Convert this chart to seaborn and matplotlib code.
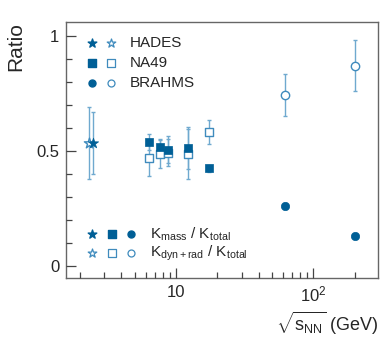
import numpy as np
import pandas as pd
import matplotlib
matplotlib.use("Agg")
import matplotlib.pyplot as plt
from matplotlib.ticker import NullFormatter, FixedLocator
import seaborn as sns

# data
hades_x_mass, hades_x_dyn = [2.48], [2.32]
hades_mass, hades_mass_err = [0.535], [0.135]
hades_dyn, hades_dyn_err = [0.535], [0.158]

na49_x = [6.3, 7.6, 8.8, 12.3, 17.3]
na49_mass = [0.538, 0.519, 0.506, 0.514, 0.425]
na49_mass_err = [0.035, 0.032, 0.058, 0.09, 0.015]
na49_dyn = [0.468, 0.487, 0.493, 0.487, 0.581]
na49_dyn_err = [0.078, 0.06, 0.06, 0.11, 0.052]

brahms_x = [62.4, 200.0]
brahms_mass = [0.262, 0.132]
brahms_mass_err = [0.012, 0.006]
brahms_dyn = [0.743, 0.871]
brahms_dyn_err = [0.09, 0.11]

dark = "#005f96"
light = "#3f8bbd"
errc = "#6fa9cf"

sns.set_theme(style="ticks", rc={"xtick.direction": "in", "ytick.direction": "in"})
plt.rcParams['font.family'] = ['Liberation Sans', 'DejaVu Sans']
plt.rcParams['mathtext.fontset'] = 'custom'
plt.rcParams['mathtext.rm'] = 'Liberation Sans'
plt.rcParams['mathtext.it'] = 'Liberation Sans:italic'

fig = plt.figure(figsize=(3.89, 3.39), dpi=100)
ax = fig.add_axes([0.170, 0.180, 0.802, 0.755])
ax.set_xscale("log")

rows = []
for exp, xs_m, xs_d, m, me, d, de, mk in [
    ("HADES", hades_x_mass, hades_x_dyn, hades_mass, hades_mass_err, hades_dyn, hades_dyn_err, "*"),
    ("NA49", na49_x, na49_x, na49_mass, na49_mass_err, na49_dyn, na49_dyn_err, "s"),
    ("BRAHMS", brahms_x, brahms_x, brahms_mass, brahms_mass_err, brahms_dyn, brahms_dyn_err, "o"),
]:
    for x, v, e in zip(xs_d, d, de):
        rows.append(dict(exp=exp, x=x, y=v, err=e, kind="dyn", marker=mk))
    for x, v, e in zip(xs_m, m, me):
        rows.append(dict(exp=exp, x=x, y=v, err=e, kind="mass", marker=mk))
df = pd.DataFrame(rows)

# error bars
for kind in ["dyn", "mass"]:
    sub = df[df.kind == kind]
    ax.errorbar(sub.x.values, sub.y.values, yerr=sub.err.values, fmt="none", ecolor=errc,
                elinewidth=1.0, capsize=1.5, capthick=1.0, zorder=2)

sizes = {"*": 60, "s": 40, "o": 36}
for (kind, mk), sub in df.groupby(["kind", "marker"]):
    if kind == "mass":
        sns.scatterplot(data=sub, x="x", y="y", marker=mk, s=sizes[mk], color=dark,
                        edgecolor=dark, linewidth=0.5, ax=ax, zorder=4, legend=False)
    else:
        sns.scatterplot(data=sub, x="x", y="y", marker=mk, s=sizes[mk], facecolor="white",
                        edgecolor=light, linewidth=1.0, ax=ax, zorder=3, legend=False)

# legends drawn by hand, ROOT style
tr = ax.transAxes
def axpt(px, py):
    return ((px - 66) / 312, (278 - py) / 256)

for (py, name, mk) in [(43, "HADES", "*"), (63, "NA49", "s"), (83, "BRAHMS", "o")]:
    x1, y1 = axpt(92, py)
    x2, _ = axpt(111, py)
    xt, _ = axpt(130, py)
    ax.scatter([x1], [y1], marker=mk, s=sizes[mk] * 0.7, color=dark, transform=tr)
    ax.scatter([x2], [y1], marker=mk, s=sizes[mk] * 0.7, facecolor="white", edgecolor=light,
               linewidth=0.9, transform=tr)
    ax.text(xt, y1, name, transform=tr, fontsize=11, va="center", ha="left")

for (py, label, filled) in [(234, r"K$_{\rm mass}$ / K$_{\rm total}$", True),
                            (253, r"K$_{\rm dyn+rad}$ / K$_{\rm total}$", False)]:
    for px, mk in [(92, "*"), (112, "s"), (131, "o")]:
        xx, yy = axpt(px, py)
        if filled:
            ax.scatter([xx], [yy], marker=mk, s=sizes[mk] * 0.7, color=dark, transform=tr)
        else:
            ax.scatter([xx], [yy], marker=mk, s=sizes[mk] * 0.7, facecolor="white",
                       edgecolor=light, linewidth=0.9, transform=tr)
    xt, yt = axpt(150, py)
    ax.text(xt, yt, label, transform=tr, fontsize=11, va="center", ha="left")

ax.set_xlim(1.58, 297)
ax.set_ylim(-0.052, 1.061)
ax.yaxis.set_major_locator(FixedLocator([0, 0.5, 1]))
ax.set_yticklabels(["0", "0.5", "1"])
ax.yaxis.set_minor_locator(FixedLocator(np.arange(0, 1.01, 0.1)))
ax.xaxis.set_major_locator(FixedLocator([10, 100]))
ax.set_xticklabels(["10", r"$10^{2}$"])
ax.xaxis.set_minor_locator(FixedLocator([2, 3, 4, 5, 6, 7, 8, 9, 20, 30, 40, 50, 60, 70, 80, 90, 200]))
ax.xaxis.set_minor_formatter(NullFormatter())
for s in ax.spines.values():
    s.set_color("#666666")
    s.set_linewidth(1.0)
ax.set_xlabel(r"$\sqrt{\mathrm{s}_{\rm NN}}$ (GeV)", fontsize=13, ha="right", x=1.0, labelpad=4)
ax.set_ylabel("Ratio", fontsize=15, ha="right", y=1.0, labelpad=8)

for axis in (ax.xaxis, ax.yaxis):
    axis.set_tick_params(which="major", direction="in", length=7, width=0.9,
                         color="#444444", labelsize=12, pad=5)
    axis.set_tick_params(which="minor", direction="in", length=4, width=0.9,
                         color="#444444")
ax.tick_params(top=False, right=False, bottom=True, left=True, which="both")
ax.set_axisbelow(False)

fig.savefig("out.png", dpi=100)
